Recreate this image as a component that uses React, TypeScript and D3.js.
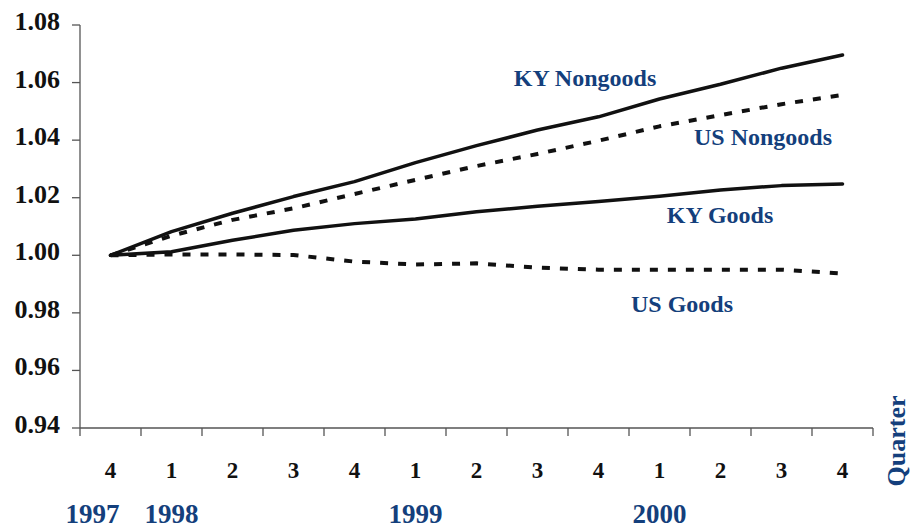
import React from 'react';
import * as d3 from 'd3';

// quarters from 1997Q4 to 2000Q4
const quarters = ['4', '1', '2', '3', '4', '1', '2', '3', '4', '1', '2', '3', '4'];
// year labels: index of quarter they sit under
const years = [
  { label: '1997', index: 0, dx: -18 },
  { label: '1998', index: 1, dx: 0 },
  { label: '1999', index: 5, dx: 0 },
  { label: '2000', index: 9, dx: 0 },
];
const yTicks = [0.94, 0.96, 0.98, 1.0, 1.02, 1.04, 1.06, 1.08];

const kyNongoods = [1.0, 1.0082, 1.0146, 1.0204, 1.0256, 1.0322, 1.0381, 1.0435, 1.0481, 1.0543, 1.0594, 1.065, 1.0696];
const usNongoods = [1.0, 1.0068, 1.0123, 1.0163, 1.0213, 1.0262, 1.031, 1.0352, 1.0398, 1.0448, 1.0487, 1.0525, 1.0557];
const kyGoods = [1.0, 1.0012, 1.0052, 1.0087, 1.011, 1.0126, 1.0151, 1.017, 1.0187, 1.0205, 1.0227, 1.0242, 1.0248];
const usGoods = [1.0, 1.0003, 1.0003, 1.0001, 0.9978, 0.9968, 0.9972, 0.9957, 0.995, 0.995, 0.995, 0.995, 0.9937];

const series = [
  { name: 'KY Nongoods', values: kyNongoods, dashed: false, labelX: 585, labelY: 86 },
  { name: 'US Nongoods', values: usNongoods, dashed: true, labelX: 763, labelY: 145 },
  { name: 'KY Goods', values: kyGoods, dashed: false, labelX: 720, labelY: 223 },
  { name: 'US Goods', values: usGoods, dashed: true, labelX: 682, labelY: 312 },
];

const W = 917;
const H = 531;
const margin = { left: 80, right: 44, top: 25, bottom: 103 };
const BLUE = '#143f7c';
const FONT = '"Liberation Serif", "DejaVu Serif", serif';

export default function App() {
  const x = d3
    .scaleBand<number>()
    .domain(quarters.map((_, i) => i))
    .range([margin.left, W - margin.right])
    .paddingInner(0)
    .paddingOuter(0);
  const cx = (i: number) => (x(i) as number) + x.bandwidth() / 2;

  const y = d3.scaleLinear().domain([0.94, 1.08]).range([H - margin.bottom, margin.top]);
  const x0 = margin.left;
  const x1 = W - margin.right;
  const yBase = H - margin.bottom;

  const line = d3
    .line<number>()
    .x((_, i) => cx(i))
    .y(d => y(d));

  const xTickPos = [...quarters.map((_, i) => x(i) as number), x1];

  return (
    <svg
      width={W}
      height={H}
      style={{ position: 'absolute', left: 0, top: 0, background: '#fff' }}
      fontFamily={FONT}
    >
      {/* y axis */}
      <line x1={x0} x2={x0} y1={y(1.08)} y2={yBase} stroke="#555" strokeWidth={1.3} />
      {yTicks.map(t => (
        <g key={t}>
          <line x1={x0 - 8} x2={x0} y1={y(t)} y2={y(t)} stroke="#555" strokeWidth={1.3} />
          <text x={60} y={y(t) + 5} textAnchor="end" fontSize={26} fontWeight="bold" fill="#111">
            {t.toFixed(2)}
          </text>
        </g>
      ))}

      {/* x axis */}
      <line x1={x0} x2={x1} y1={yBase} y2={yBase} stroke="#555" strokeWidth={1.3} />
      {xTickPos.map((p, i) => (
        <line key={i} x1={p} x2={p} y1={yBase} y2={yBase + 8} stroke="#555" strokeWidth={1.3} />
      ))}
      {quarters.map((q, i) => (
        <text key={i} x={cx(i)} y={478} textAnchor="middle" fontSize={23} fontWeight="bold" fill="#111">
          {q}
        </text>
      ))}
      {years.map(yr => (
        <text
          key={yr.label}
          x={cx(yr.index) + yr.dx}
          y={523}
          textAnchor="middle"
          fontSize={27}
          fontWeight="bold"
          fill={BLUE}
        >
          {yr.label}
        </text>
      ))}
      <text
        transform={`translate(905,441) rotate(-90)`}
        textAnchor="middle"
        fontSize={26}
        fontWeight="bold"
        fill={BLUE}
      >
        Quarter
      </text>

      {/* series lines */}
      {series.map(s => (
        <path
          key={s.name}
          d={line(s.values) || ''}
          fill="none"
          stroke="#111"
          strokeWidth={s.dashed ? 4 : 3.5}
          strokeDasharray={s.dashed ? '8 10' : undefined}
          strokeLinejoin="round"
          strokeLinecap={s.dashed ? 'butt' : 'round'}
        />
      ))}
      {series.map(s => (
        <text
          key={s.name + '-label'}
          x={s.labelX}
          y={s.labelY}
          textAnchor="middle"
          fontSize={24}
          fontWeight="bold"
          fill={BLUE}
        >
          {s.name}
        </text>
      ))}
    </svg>
  );
}
